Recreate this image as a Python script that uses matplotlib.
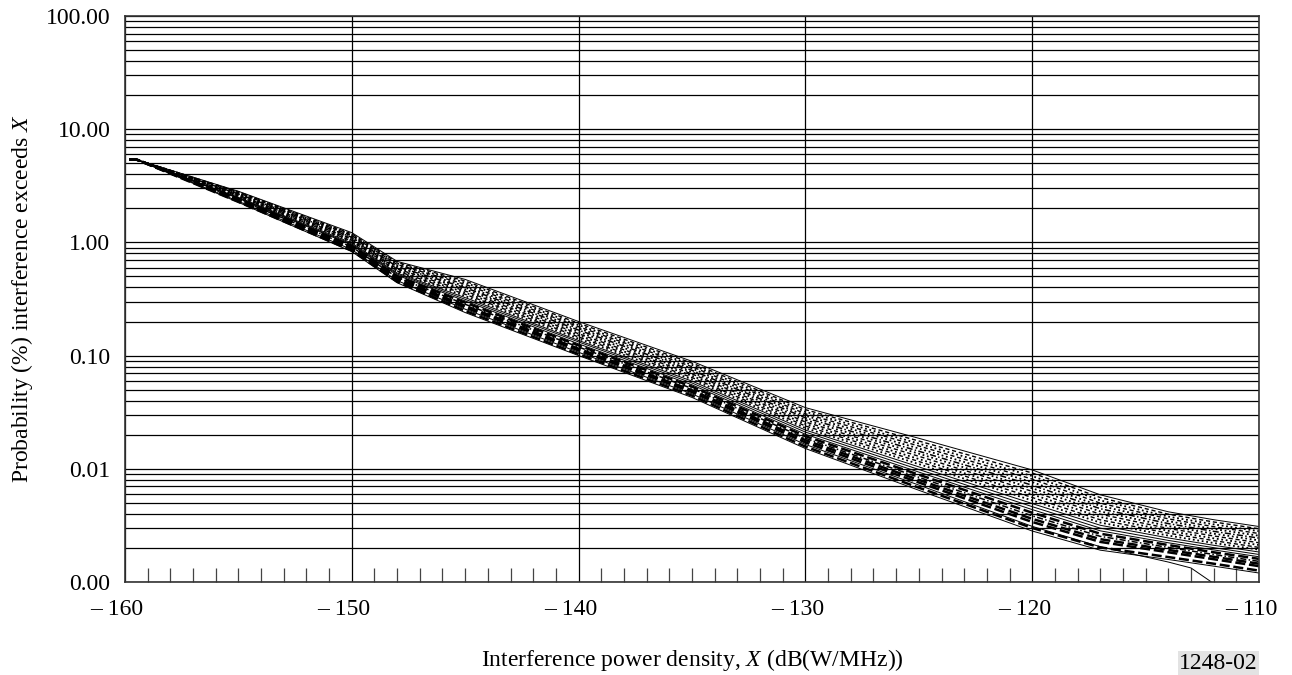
import numpy as np
import matplotlib
matplotlib.use("Agg")
import matplotlib.pyplot as plt
import matplotlib.transforms as mtransforms
from matplotlib.ticker import FixedLocator, MultipleLocator, NullFormatter, LogLocator

plt.rcParams['font.family'] = ['Liberation Serif', 'DejaVu Serif']
plt.rcParams['mathtext.fontset'] = 'custom'
plt.rcParams['mathtext.rm'] = 'Liberation Serif'
plt.rcParams['mathtext.it'] = 'Liberation Serif:italic'

# x positions (dB(W/MHz)) at which the curves are read
x_db = [-159.8, -159.5, -155, -150, -148, -145, -140, -135, -130, -125, -120, -117, -114, -112, -110]
# the one curve that falls off the bottom of the chart near -112 dB
x_drop = [-159.8, -159.5, -155, -150, -148, -145, -140, -135, -130, -125, -120, -117, -114, -113, -112.1]

# probability (%) that interference exceeds X, one list per simulated curve
c00 = [5.4, 5.4, 2.26, 0.830, 0.440, 0.240, 0.100, 0.0427, 0.0151, 0.00646, 0.00282, 0.00191, 0.00158, 0.00138, 0.00120]
c05 = [5.4, 5.4, 2.28, 0.846, 0.450, 0.248, 0.103, 0.0443, 0.0157, 0.00681, 0.00300, 0.00202, 0.00166, 0.00145, 0.00126]
c_drop = [5.4, 5.4, 2.31, 0.863, 0.460, 0.257, 0.107, 0.0459, 0.0164, 0.00718, 0.00310, 0.00205, 0.00150, 0.00133, 0.00100]
c15 = [5.4, 5.4, 2.34, 0.879, 0.470, 0.266, 0.111, 0.0476, 0.0171, 0.00757, 0.00339, 0.00226, 0.00183, 0.00159, 0.00138]
c20 = [5.4, 5.4, 2.37, 0.896, 0.481, 0.275, 0.115, 0.0494, 0.0179, 0.00798, 0.00361, 0.00239, 0.00192, 0.00167, 0.00145]
c25 = [5.4, 5.4, 2.40, 0.913, 0.491, 0.284, 0.119, 0.0513, 0.0186, 0.00841, 0.00384, 0.00253, 0.00202, 0.00175, 0.00152]
c30 = [5.4, 5.4, 2.42, 0.931, 0.502, 0.294, 0.123, 0.0532, 0.0194, 0.00887, 0.00409, 0.00267, 0.00212, 0.00183, 0.00160]
c35 = [5.4, 5.4, 2.45, 0.950, 0.513, 0.304, 0.127, 0.0552, 0.0202, 0.00935, 0.00436, 0.00283, 0.00222, 0.00192, 0.00167]
c40 = [5.4, 5.4, 2.47, 0.968, 0.525, 0.314, 0.132, 0.0573, 0.0211, 0.00986, 0.00463, 0.00299, 0.00233, 0.00201, 0.00175]
c45 = [5.4, 5.4, 2.50, 0.989, 0.536, 0.325, 0.136, 0.0595, 0.0220, 0.01040, 0.00493, 0.00317, 0.00245, 0.00211, 0.00184]
c50 = [5.4, 5.4, 2.53, 1.010, 0.547, 0.336, 0.141, 0.0617, 0.0229, 0.01100, 0.00525, 0.00335, 0.00257, 0.00221, 0.00193]
c55 = [5.4, 5.4, 2.56, 1.030, 0.559, 0.348, 0.146, 0.0640, 0.0239, 0.01160, 0.00558, 0.00354, 0.00270, 0.00232, 0.00202]
c60 = [5.4, 5.4, 2.59, 1.050, 0.571, 0.360, 0.151, 0.0664, 0.0249, 0.01220, 0.00594, 0.00375, 0.00283, 0.00243, 0.00212]
c65 = [5.4, 5.4, 2.62, 1.070, 0.584, 0.372, 0.156, 0.0689, 0.0259, 0.01290, 0.00632, 0.00397, 0.00297, 0.00255, 0.00222]
c70 = [5.4, 5.4, 2.65, 1.090, 0.597, 0.385, 0.162, 0.0714, 0.0270, 0.01360, 0.00673, 0.00420, 0.00312, 0.00267, 0.00233]
c75 = [5.4, 5.4, 2.68, 1.110, 0.610, 0.398, 0.168, 0.0741, 0.0282, 0.01430, 0.00716, 0.00444, 0.00328, 0.00280, 0.00244]
c80 = [5.4, 5.4, 2.70, 1.130, 0.624, 0.411, 0.174, 0.0769, 0.0294, 0.01510, 0.00762, 0.00470, 0.00344, 0.00294, 0.00256]
c85 = [5.4, 5.4, 2.74, 1.150, 0.638, 0.426, 0.180, 0.0798, 0.0306, 0.01590, 0.00811, 0.00497, 0.00361, 0.00308, 0.00268]
c90 = [5.4, 5.4, 2.77, 1.170, 0.652, 0.441, 0.186, 0.0828, 0.0319, 0.01670, 0.00863, 0.00526, 0.00378, 0.00323, 0.00281]
c95 = [5.4, 5.4, 2.80, 1.190, 0.666, 0.456, 0.193, 0.0859, 0.0333, 0.01760, 0.00918, 0.00557, 0.00397, 0.00339, 0.00295]
c100 = [5.4, 5.4, 2.83, 1.220, 0.680, 0.471, 0.200, 0.0891, 0.0347, 0.01860, 0.00977, 0.00589, 0.00417, 0.00355, 0.00309]

x_ticks = [-160, -150, -140, -130, -120, -110]
x_tick_labels = ["\u2013 160", "\u2013 150", "\u2013 140", "\u2013 130", "\u2013 120", "\u2013 110"]
y_ticks = [0.001, 0.01, 0.1, 1, 10, 100]
y_tick_labels = ["0.00", "0.01", "0.10", "1.00", "10.00", "100.00"]

DASH_THICK = dict(lw=1.8, ls=(0, (4, 1.5)))
DASH_THIN = dict(lw=1.0, ls=(0, (3, 2)))
DOT = dict(lw=1.3, ls=(0, (1, 1.5)))
DASHDOT = dict(lw=1.1, ls=(0, (4, 1.5, 1, 1.5)))
SOLID = dict(lw=0.7, ls='-')

series = [
    (x_db, c00, SOLID), (x_db, c05, DASH_THICK), (x_drop, c_drop, SOLID), (x_db, c15, DASH_THICK),
    (x_db, c20, DASH_THICK), (x_db, c25, DASHDOT), (x_db, c30, DASH_THICK), (x_db, c35, SOLID),
    (x_db, c40, SOLID), (x_db, c45, SOLID), (x_db, c50, DOT), (x_db, c55, DASH_THIN),
    (x_db, c60, DOT), (x_db, c65, DASH_THIN), (x_db, c70, DOT), (x_db, c75, DASHDOT),
    (x_db, c80, DOT), (x_db, c85, DASH_THIN), (x_db, c90, DOT), (x_db, c95, DASH_THIN),
    (x_db, c100, SOLID),
]

fig = plt.figure(figsize=(12.92, 6.75), dpi=100)
ax = fig.add_axes([0.0967, 0.1378, 0.8778, 0.8385])

ax.set_yscale('log')
ax.set_xlim(-160, -110)
ax.set_ylim(0.001, 100)

for xs, vals, st in series:
    ax.plot(xs, vals, color='black', solid_capstyle='butt', dash_capstyle='butt', **st)

# grid
ax.yaxis.set_major_locator(FixedLocator(y_ticks))
ax.yaxis.set_minor_locator(LogLocator(base=10, subs=np.arange(2, 10)))
ax.yaxis.set_minor_formatter(NullFormatter())
ax.set_yticklabels(y_tick_labels)
ax.grid(True, which='both', axis='y', color='black', lw=0.9)
ax.set_xticks(x_ticks)
ax.set_xticklabels(x_tick_labels)
ax.xaxis.set_minor_locator(MultipleLocator(1))
ax.grid(True, which='major', axis='x', color='black', lw=0.9)
ax.set_axisbelow(True)

ax.tick_params(axis='y', which='both', length=0, labelsize=17, pad=10.5)
ax.tick_params(axis='x', which='major', length=0, labelsize=17, pad=12)
ax.tick_params(axis='x', which='minor', direction='in', length=10, width=0.9, color='#444444',
               top=False)

shift = mtransforms.ScaledTranslation(-8 / 100, 0, fig.dpi_scale_trans)
for lab in ax.get_xticklabels():
    lab.set_transform(lab.get_transform() + shift)

for s in ax.spines.values():
    s.set_linewidth(1.2)
    s.set_color('#333333')

ax.set_xlabel("Interference power density, $\\mathit{X}$ (dB(W/MHz))", fontsize=17, labelpad=20)
ax.set_ylabel("Probability (%) interference exceeds $\\mathit{X}$", fontsize=17, labelpad=8)

fig.text(0.9735, 0.002, "1248-02", fontsize=17, ha='right', va='bottom',
         bbox=dict(facecolor='#e3e3e3', edgecolor='none', pad=1.0))

fig.savefig("out.png", dpi=100)
